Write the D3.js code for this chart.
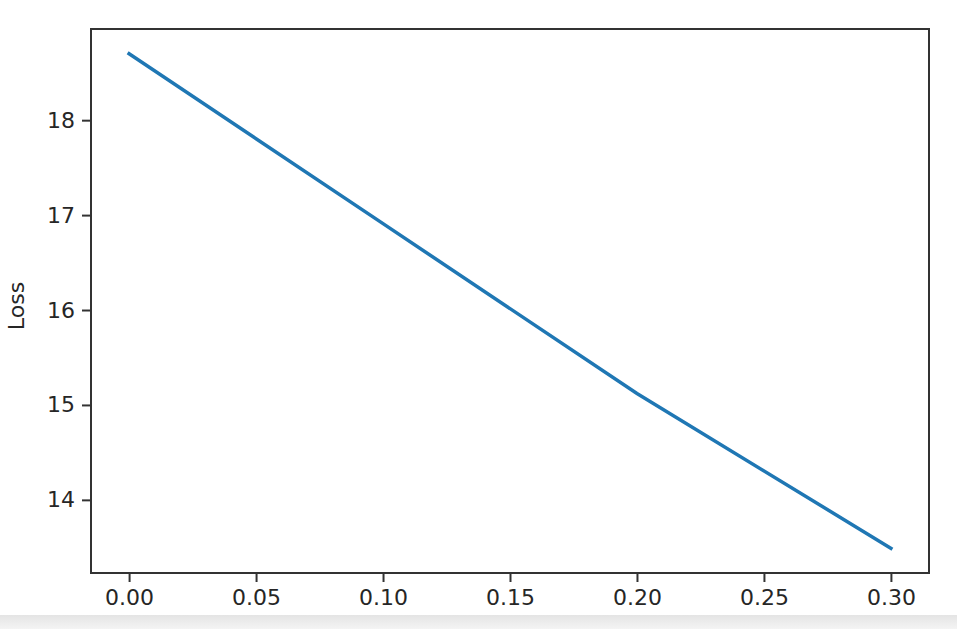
<!DOCTYPE html>
<html>
<head>
<meta charset="utf-8">
<script src="https://cdn.jsdelivr.net/npm/d3@7"></script>
<style>
  body { margin: 0; background: #fff; }
  svg { display: block; font-family: "DejaVu Sans", sans-serif; }
</style>
</head>
<body>
<script>
// values
var steps = [0.0, 0.1, 0.2, 0.3];
var losses = [18.70, 16.91, 15.12, 13.49];
var xTicks = [0.00, 0.05, 0.10, 0.15, 0.20, 0.25, 0.30];
var yTicks = [14, 15, 16, 17, 18];
var yLabel = 'Loss';

var width = 957,
    height = 629;

// axes box, like matplotlib (note: "top" is taken by window.top)
var boxLeft = 91, boxRight = 929, boxTop = 29, boxBottom = 573;

var svg = d3.select('body')
  .append('svg')
  .attr('width', width)
  .attr('height', height);

// 5% margins around the data, as matplotlib does
function padded(ext) {
  var m = (ext[1] - ext[0]) * 0.05;
  return [ext[0] - m, ext[1] + m];
}

var x = d3.scaleLinear().domain(padded(d3.extent(steps))).range([boxLeft, boxRight]);
var y = d3.scaleLinear().domain(padded(d3.extent(losses))).range([boxBottom, boxTop]);

var data = steps.map(function(d, i) { return { x: d, y: losses[i] }; });

// the line
var line = d3.line()
  .x(function(d) { return x(d.x); })
  .y(function(d) { return y(d.y); });

svg.append('path')
  .datum(data)
  .attr('fill', 'none')
  .attr('stroke', '#1f77b4')
  .attr('stroke-width', 3.5)
  .attr('stroke-linecap', 'square')
  .attr('d', line);

// axes
var xAxis = d3.axisBottom(x)
  .tickValues(xTicks)
  .tickFormat(d3.format('.2f'))
  .tickSize(9)
  .tickPadding(7);

var yAxis = d3.axisLeft(y)
  .tickValues(yTicks)
  .tickFormat(d3.format('d'))
  .tickSize(9)
  .tickPadding(7);

var gx = svg.append('g')
  .attr('transform', 'translate(0,' + boxBottom + ')')
  .call(xAxis);

var gy = svg.append('g')
  .attr('transform', 'translate(' + boxLeft + ',0)')
  .call(yAxis);

[gx, gy].forEach(function(g) {
  g.select('.domain').remove();
  g.selectAll('line').attr('stroke', '#333').attr('stroke-width', 2);
  g.selectAll('text')
    .attr('fill', '#262626')
    .style('font-size', '22px')
    .style('font-family', '"DejaVu Sans", sans-serif');
});

// frame around the axes
svg.append('rect')
  .attr('x', boxLeft)
  .attr('y', boxTop)
  .attr('width', boxRight - boxLeft)
  .attr('height', boxBottom - boxTop)
  .attr('fill', 'none')
  .attr('stroke', '#333')
  .attr('stroke-width', 2);

// y label
svg.append('text')
  .attr('transform', 'translate(24,306) rotate(-90)')
  .attr('text-anchor', 'middle')
  .attr('fill', '#262626')
  .style('font-size', '22px')
  .text(yLabel);

// grey strip at the bottom of the screenshot
var grad = svg.append('defs').append('linearGradient')
  .attr('id', 'strip')
  .attr('x1', 0).attr('y1', 0).attr('x2', 0).attr('y2', 1);
grad.append('stop').attr('offset', '0%').attr('stop-color', '#e4e4e4');
grad.append('stop').attr('offset', '100%').attr('stop-color', '#f4f4f4');

svg.append('rect')
  .attr('x', 0)
  .attr('y', 615)
  .attr('width', width)
  .attr('height', height - 615)
  .attr('fill', 'url(#strip)');
</script>
</body>
</html>
